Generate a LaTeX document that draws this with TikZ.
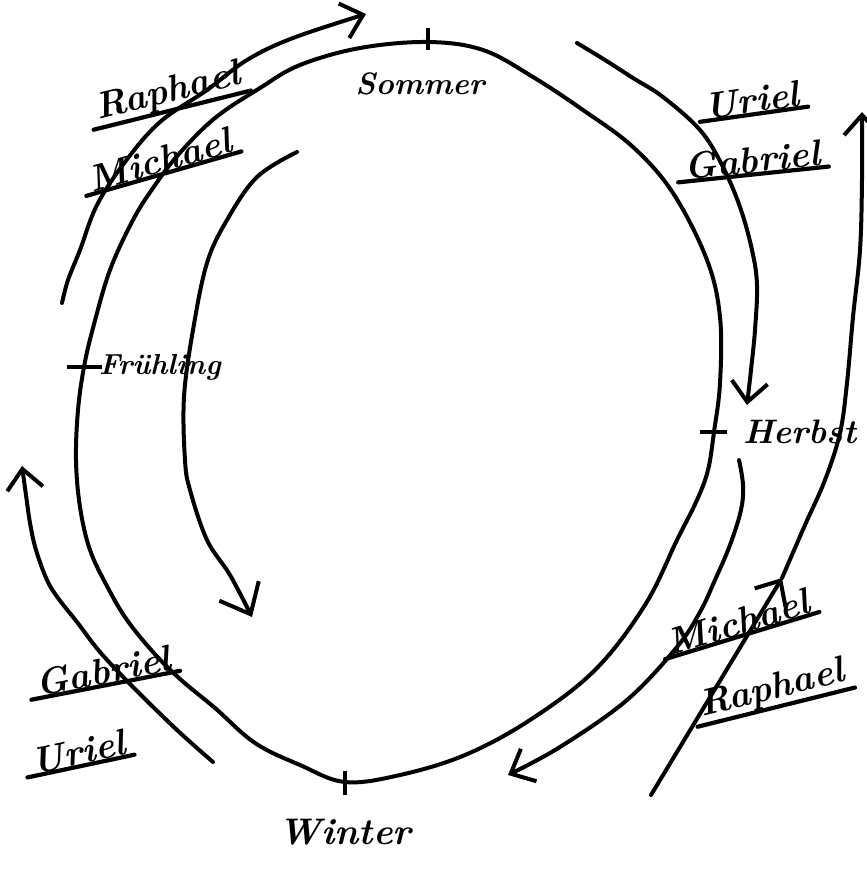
\documentclass[tikz,border=0pt]{standalone}
\usepackage{fontspec}
\usepackage{tikz}
\usetikzlibrary{arrows.meta, positioning}

\begin{document}
\begin{tikzpicture}[
    x=1pt, y=-1pt,
    stroke/.style={line width=4pt, line cap=round, line join=round},
    arrow/.style={stroke, -{Straight Barb[length=20pt, width=36pt]}},
    ticker/.style={line width=4.2pt},
    season/.style={inner sep=1pt, font=\fontsize{31}{31}\selectfont\bfseries\itshape},
    angel/.style={inner sep=1pt, rotate=#1, font=\fontsize{37}{37}\selectfont\bfseries\itshape},
    uline/.style={line width=4.2pt, line cap=round, shorten <=-6pt, shorten >=-6pt},
]
\useasboundingbox (0,0) rectangle (867,871);

% Seasons on the loop
\coordinate (sommer) at (428,42);
\coordinate (herbst) at (714,432);
\coordinate (winter) at (345,782);
\coordinate (fruehling) at (84,367);

\draw[stroke] plot[smooth cycle, tension=0.6] coordinates {(sommer) (483,50) (533,77) (583,110) (633,147) (673,193) (707,260) (720,317) (720,383) (herbst) (708,470) (697,500) (677,540) (645,605) (595,670) (530,720) (465,755) (400,775) (winter) (300,765) (255,743) (215,708) (180,679) (153,652) (127,620) (108,588) (90,550) (80,507) (76,460) (78,410) (fruehling) (93,328) (110,270) (133,220) (153,188) (178,155) (215,118) (260,88) (300,65) (360,48)};

\draw[ticker] ([yshift=14pt]sommer) -- ([yshift=-8pt]sommer);
\draw[ticker] ([yshift=11pt]winter) -- ([yshift=-13pt]winter);
\draw[ticker] ([xshift=-17pt]fruehling) -- ([xshift=18pt]fruehling);
\draw[ticker] ([xshift=-14pt]herbst) -- ([xshift=13pt]herbst);

\node[season, below=30pt of sommer, xshift=-8pt] (sommerlabel) {Sommer};
\node[season, right=14pt of fruehling, font=\fontsize{29}{29}\selectfont\bfseries\itshape] (fruehlinglabel) {Frühling};
\node[season, right=28pt of herbst, font=\fontsize{34}{34}\selectfont\bfseries\itshape] (herbstlabel) {Herbst};
\node[season, below=36pt of winter, font=\fontsize{37}{37}\selectfont\bfseries\itshape] (winterlabel) {Winter};

% Angels
\node[angel=14] (raphael1) at (168,93) {Raphael};
\node[angel=16] (michael1) at (160,160) {Michael};
\node[angel=8] (uriel1) at (752,100) {Uriel};
\node[angel=6] (gabriel1) at (752,160) {Gabriel};
\node[angel=17] (michael2) at (738,622) {Michael};
\node[angel=14] (raphael2) at (772,690) {Raphael};
\node[angel=11] (gabriel2) at (103,671) {Gabriel};
\node[angel=12] (uriel2) at (78,752) {Uriel};

\foreach \n in {raphael1, michael1, uriel1, gabriel1, michael2, raphael2, gabriel2, uriel2}
    \draw[uline] (\n.south west) -- (\n.south east);

% Arrows
\coordinate (rmstart) at (62,303);
\coordinate (rmend) at (366,14);
\coordinate (ugstart) at (577,43);
\coordinate (ugend) at (747,405);
\coordinate (hwstart) at (739,460);
\coordinate (hwend) at (508,775);
\coordinate (mrstart) at (651,795);
\coordinate (mrmid) at (782,578);
\coordinate (mrend) at (862,112);
\coordinate (gustart) at (213,762);
\coordinate (guend) at (22,466);
\coordinate (innerstart) at (297,152);
\coordinate (innerend) at (252,617);

\draw[arrow] plot[smooth, tension=0.6] coordinates {(rmstart) (68,280) (80,250) (97,205) (125,162) (160,122) (207,90) (247,60) (293,38) (rmend)};
\draw[arrow] plot[smooth, tension=0.6] coordinates {(ugstart) (605,60) (633,78) (663,97) (700,130) (722,165) (740,207) (752,250) (757,285) (755,330) (751,370) (ugend)};
\draw[arrow] plot[smooth, tension=0.6] coordinates {(hwstart) (743,485) (741,510) (730,545) (715,580) (700,612) (677,647) (627,700) (560,747) (hwend)};
\draw[arrow] (mrstart) -- (mrmid);
\draw[arrow] plot[smooth, tension=0.6] coordinates {(mrmid) (805,525) (825,480) (840,433) (847,383) (853,317) (860,250) (862,180) (mrend)};
\draw[arrow] plot[smooth, tension=0.6] coordinates {(gustart) (177,730) (133,687) (100,652) (77,622) (58,598) (47,580) (36,550) (30,523) (26,495) (guend)};
\draw[arrow, -{Straight Barb[length=26pt, width=44pt]}] plot[smooth, tension=0.6] coordinates {(innerstart) (257,177) (227,220) (207,263) (193,330) (184,397) (185,460) (190,490) (207,540) (230,575) (innerend)};

\end{tikzpicture}
\end{document}
